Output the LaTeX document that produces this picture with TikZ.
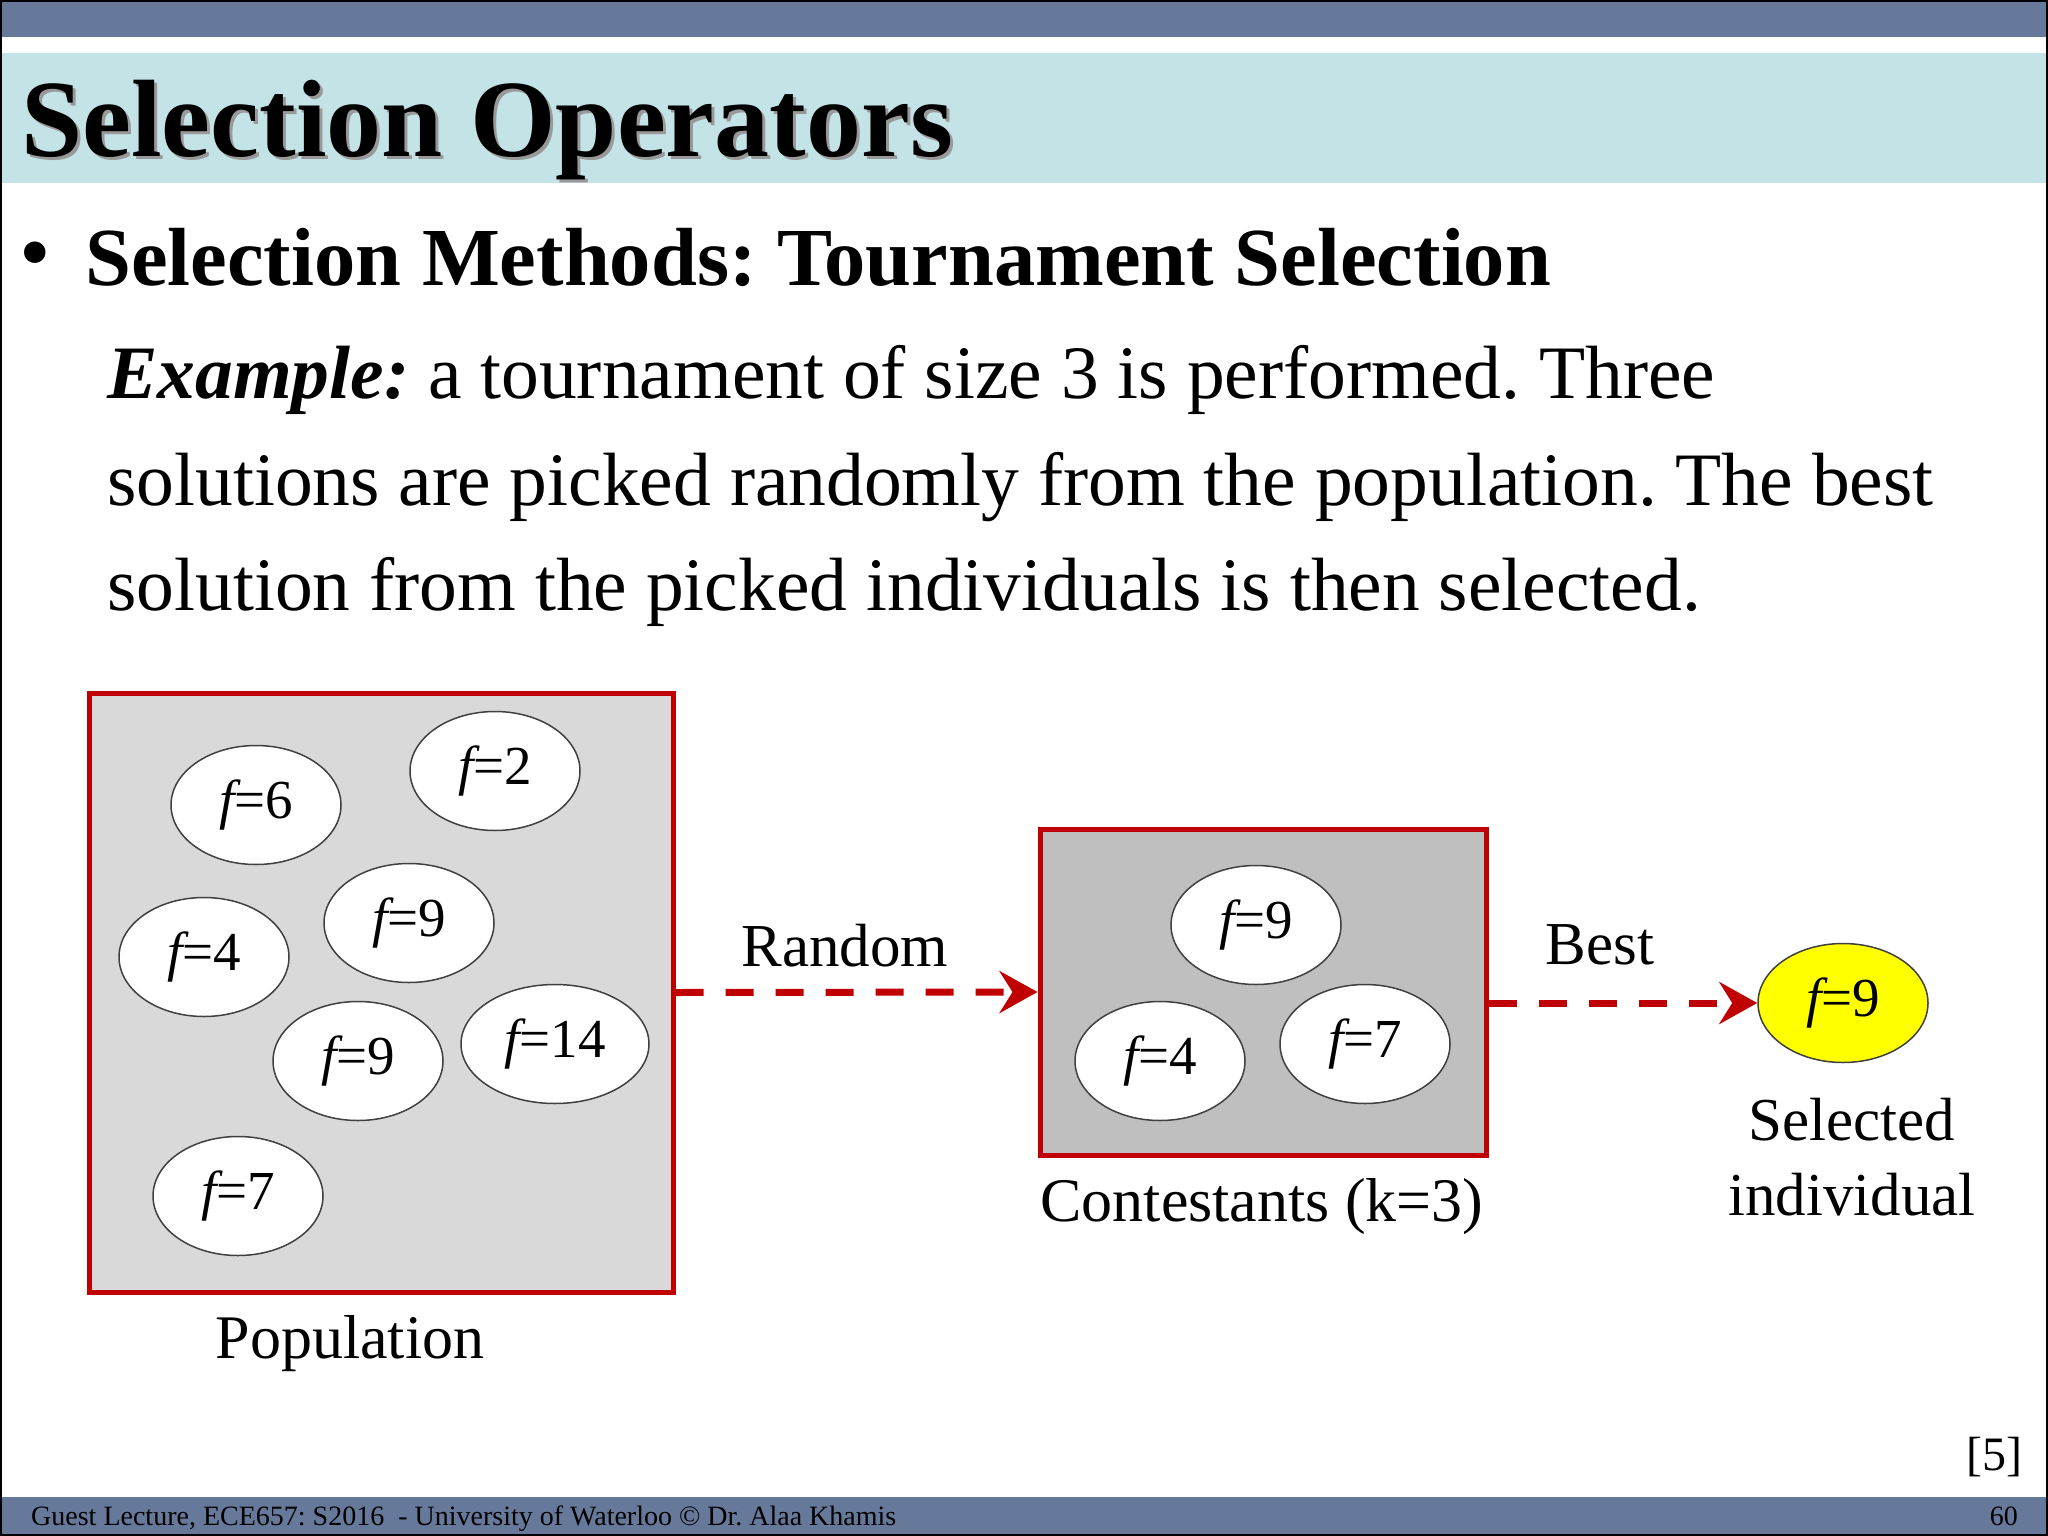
\documentclass[tikz,border=0pt]{standalone}
\usepackage{fontspec}
\setmainfont{Liberation Serif}
\usetikzlibrary{arrows.meta,shapes.geometric}
\definecolor{barblue}{HTML}{67799A}
\definecolor{bandblue}{HTML}{C4E3E6}
\definecolor{popgray}{HTML}{D9D9D9}
\definecolor{congray}{HTML}{BFBFBF}
\definecolor{boxred}{HTML}{C00000}
\definecolor{selyellow}{HTML}{FFFF00}
\newcommand\myfs[2]{\fontsize{#1}{#2}\selectfont}
\frenchspacing
\tikzset{
  indiv/.style={ellipse, draw=black!75, line width=1.5pt, fill=white,
    minimum width=170pt, minimum height=119pt, inner sep=0pt,
    font=\myfs{55}{60}},
  redbox/.style={draw=boxred, line width=5pt, inner sep=0pt},
  arr/.style={draw=boxred, line width=7pt, dash pattern=on 28pt off 22pt,
    -{Stealth[length=38pt,width=42pt,inset=13pt]}},
  lbl/.style={inner sep=0pt, font=\myfs{61}{75}},
  glbl/.style={inner sep=0pt, font=\myfs{62}{75}}
}
\newcommand\fval[1]{{\itshape f}=#1}
\begin{document}
\begin{tikzpicture}[x=1pt,y=-1pt]
\useasboundingbox (0,0) rectangle (2048,1536);
\fill[white] (0,0) rectangle (2048,1536);
% bars
\fill[barblue] (0,0) rectangle (2048,37);
\fill[bandblue] (0,53) rectangle (2048,183);
\fill[barblue] (0,1497) rectangle (2048,1536);
\draw[black, line width=4pt] (0,0) rectangle (2048,1536);
% title
\node[anchor=base west, inner sep=0pt, text=black!40, font=\myfs{110}{120}\bfseries] (titleshadow) at (24,160) {Selection Operators};
\node[anchor=base west, inner sep=0pt, font=\myfs{110}{120}\bfseries] (title) at (21,157) {Selection Operators};
% bullet heading
\node[inner sep=0pt, font=\myfs{90}{100}] (bullet) at (35,262) {•};
\node[anchor=base west, inner sep=0pt, font=\myfs{82.5}{100}\bfseries] (head) at (85,285) {Selection Methods: Tournament Selection};
% example text
\node[anchor=base west, inner sep=0pt, font=\myfs{75.5}{106}] (ex1) at (107,398) {{\bfseries\itshape Example:} a tournament of size 3 is performed. Three};
\node[anchor=base west, inner sep=0pt, font=\myfs{75.5}{106}] (ex2) at (107,505) {solutions are picked randomly from the population. The best};
\node[anchor=base west, inner sep=0pt, font=\myfs{75.5}{106}] (ex3) at (107,610) {solution from the picked individuals is then selected.};
% population
\node[redbox, fill=popgray, minimum width=584pt, minimum height=599pt] (pop) at (381,992.5) {};
\node[indiv] (p6) at (256,805) {\fval{6}};
\node[indiv] (p2) at (495,771) {\fval{2}};
\node[indiv] (p4) at (204,957) {\fval{4}};
\node[indiv] (p9a) at (409,923) {\fval{9}};
\node[indiv] (p9b) at (358,1061) {\fval{9}};
\node[indiv, minimum width=188pt] (p14) at (555,1044) {\fval{14}};
\node[indiv] (p7) at (238,1196) {\fval{7}};
\node[glbl, anchor=base] (poplbl) at (350,1358) {Population};
% contestants
\node[redbox, fill=congray, minimum width=446pt, minimum height=326pt] (cont) at (1263,992) {};
\node[indiv] (c9) at (1256,925) {\fval{9}};
\node[indiv] (c4) at (1160,1061) {\fval{4}};
\node[indiv] (c7) at (1365,1044) {\fval{7}};
\node[glbl, anchor=base] (contlbl) at (1262,1221) {Contestants (k=3)};
% selected
\node[indiv, fill=selyellow] (sel) at (1843,1003) {\fval{9}};
\node[lbl, anchor=north, align=center] (sellbl) at (1852,1098) {Selected\\individual};
% arrows
\draw[arr] (pop.east) -- (cont.west);
\node[lbl, anchor=base] (randlbl) at (845,966) {Random};
\draw[arr] (cont.east |- sel.west) -- (sel.west);
\node[lbl, anchor=base] (bestlbl) at (1600,964) {Best};
% reference and footer
\node[anchor=base, inner sep=0pt, font=\myfs{48}{56}] (ref) at (1994,1470) {[5]};
\node[anchor=base west, inner sep=0pt, font=\myfs{28}{30}] (foot) at (31,1525) {Guest Lecture, ECE657: S2016\ \ - University of Waterloo © Dr. Alaa Khamis};
\node[anchor=base east, inner sep=0pt, font=\myfs{28}{30}] (page) at (2018,1525) {60};
\end{tikzpicture}
\end{document}
